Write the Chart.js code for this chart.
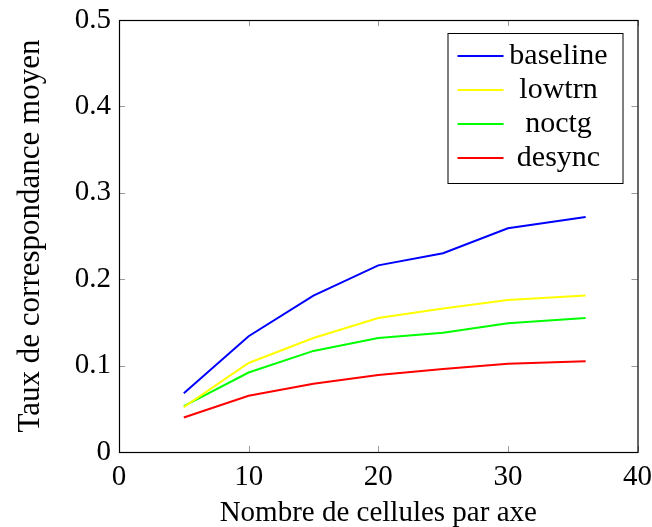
<!DOCTYPE html>
<html lang="fr">
<head>
    <meta charset="UTF-8">
    <title>Taux de correspondance moyen</title>
    <script src="https://cdn.jsdelivr.net/npm/chart.js"></script>
    <style>
        html,body{margin:0;padding:0;background:#fff;}
        #wrap{width:652px;height:527px;}
    </style>
</head>
<body>
<div id="wrap"><canvas id="myChart"></canvas></div>
<script>
    // données
    const cellules = [5, 10, 15, 20, 25, 30, 36];
    const baseline = [0.068, 0.134, 0.181, 0.216, 0.230, 0.259, 0.272];
    const lowtrn   = [0.052, 0.103, 0.132, 0.155, 0.166, 0.176, 0.181];
    const noctg    = [0.053, 0.092, 0.117, 0.132, 0.138, 0.149, 0.155];
    const desync   = [0.040, 0.065, 0.079, 0.089, 0.096, 0.102, 0.105];

    const noms = ['baseline', 'lowtrn', 'noctg', 'desync'];
    const series = [baseline, lowtrn, noctg, desync];
    const couleurs = ['#0000ff', '#ffff00', '#00ff00', '#ff0000'];

    const police = "'Liberation Serif', 'DejaVu Serif', serif";

    const datasets = noms.map((nom, i) => ({
        label: nom,
        data: cellules.map((x, j) => ({x: x, y: series[i][j]})),
        borderColor: couleurs[i],
        backgroundColor: couleurs[i],
        borderWidth: 2,
        pointRadius: 0,
        tension: 0,
        fill: false
    }));

    // cadre, graduations internes et légende façon pgfplots
    const cadrePlugin = {
        id: 'cadre',
        afterDraw(chart) {
            const ctx = chart.ctx;
            const a = chart.chartArea;
            const sx = chart.scales.x, sy = chart.scales.y;
            ctx.save();
            // graduations
            ctx.strokeStyle = '#9a9a9a';
            ctx.lineWidth = 1;
            ctx.beginPath();
            sx.ticks.forEach(t => {
                const px = Math.round(sx.getPixelForValue(t.value)) + 0.5;
                ctx.moveTo(px, a.bottom); ctx.lineTo(px, a.bottom - 6);
                ctx.moveTo(px, a.top); ctx.lineTo(px, a.top + 6);
            });
            sy.ticks.forEach(t => {
                const py = Math.round(sy.getPixelForValue(t.value)) + 0.5;
                ctx.moveTo(a.left, py); ctx.lineTo(a.left + 6, py);
                ctx.moveTo(a.right, py); ctx.lineTo(a.right - 6, py);
            });
            ctx.stroke();
            // cadre
            ctx.strokeStyle = '#000';
            ctx.lineWidth = 1.2;
            ctx.strokeRect(a.left + 0.5, a.top + 0.5, a.right - a.left, a.bottom - a.top);

            // légende
            const bx = a.right - 190, by = a.top + 13, bw = 175, bh = 150;
            ctx.fillStyle = '#fff';
            ctx.fillRect(bx, by, bw, bh);
            ctx.strokeStyle = '#000';
            ctx.lineWidth = 1;
            ctx.strokeRect(bx + 0.5, by + 0.5, bw, bh);
            ctx.font = '30px ' + police;
            ctx.textAlign = 'center';
            ctx.textBaseline = 'middle';
            chart.data.datasets.forEach((ds, i) => {
                const y = by + 23 + i * 34;
                ctx.strokeStyle = ds.borderColor;
                ctx.lineWidth = 2;
                ctx.beginPath();
                ctx.moveTo(bx + 10, y); ctx.lineTo(bx + 56, y);
                ctx.stroke();
                ctx.fillStyle = '#000';
                ctx.fillText(ds.label, bx + 111, y);
            });
            ctx.restore();
        }
    };

    const ctx = document.getElementById('myChart').getContext('2d');
    new Chart(ctx, {
        type: 'line',
        data: {datasets: datasets},
        plugins: [cadrePlugin],
        options: {
            responsive: true,
            maintainAspectRatio: false,
            animation: false,
            layout: {padding: {left: 0, right: 12, top: 20, bottom: 0}},
            plugins: {legend: {display: false}, tooltip: {enabled: false}},
            scales: {
                x: {
                    type: 'linear',
                    min: 0, max: 40,
                    grid: {display: false},
                    border: {display: false},
                    ticks: {stepSize: 10, color: '#000', padding: 0, maxRotation: 0,
                        font: {family: police, size: 29}},
                    title: {display: true, text: 'Nombre de cellules par axe', color: '#000',
                        font: {family: police, size: 29}, padding: {top: 0, bottom: -4}},
                    afterFit: s => { s.height = 75; }
                },
                y: {
                    min: 0, max: 0.5,
                    grid: {display: false},
                    border: {display: false},
                    ticks: {stepSize: 0.1, color: '#000', padding: 0,
                        font: {family: police, size: 29},
                        callback: v => v === 0 ? '0' : v.toFixed(1)},
                    title: {display: true, text: 'Taux de correspondance moyen', color: '#000',
                        font: {family: police, size: 31}, padding: {top: 12, bottom: 0}},
                    afterFit: s => { s.width = 119; }
                }
            }
        }
    });
</script>
</body>
</html>
